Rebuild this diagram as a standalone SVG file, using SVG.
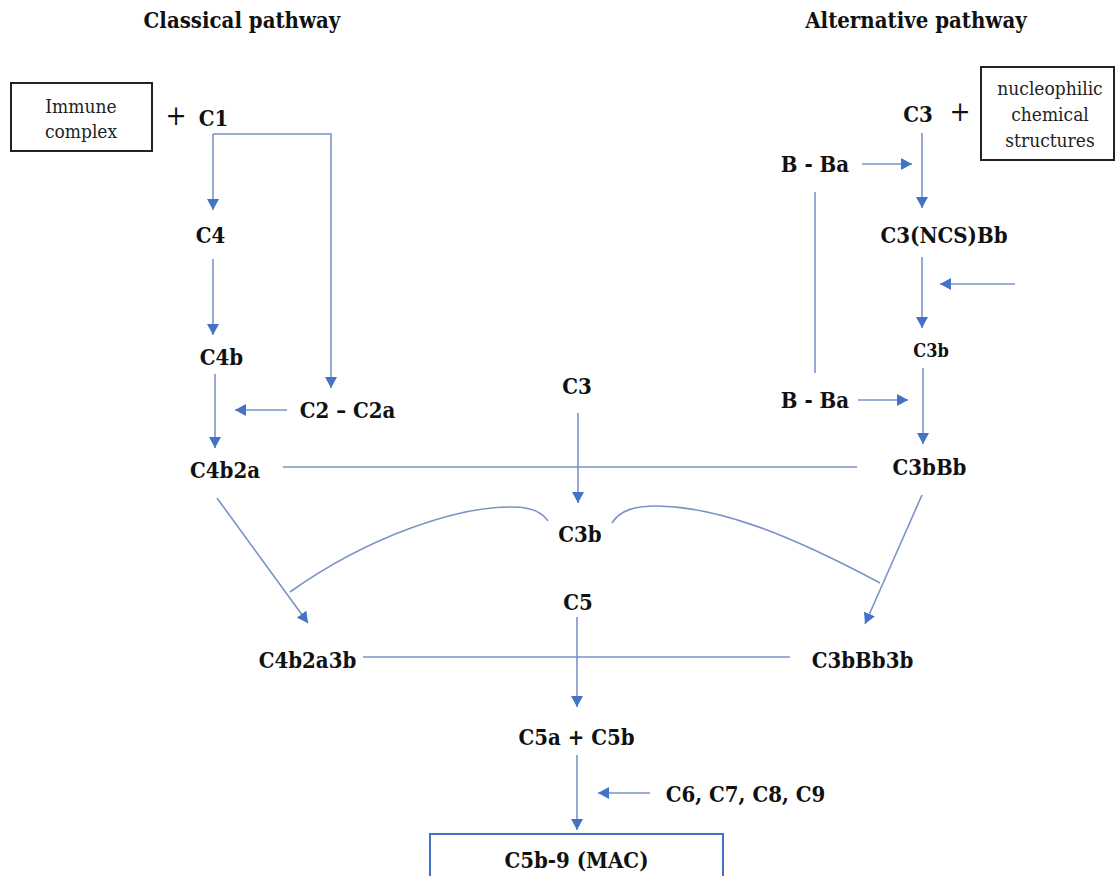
<svg xmlns="http://www.w3.org/2000/svg" width="1115" height="876" viewBox="0 0 1115 876">
<style>
text{font-family:'DejaVu Serif Condensed','DejaVu Serif',serif;font-stretch:condensed;text-anchor:middle;fill:#111}
.t{font-weight:bold;font-size:22px}
.title{font-weight:bold;font-size:22px}
.r{font-size:19px;fill:#222}
.plus{font-size:28px}
.box{fill:#fff;stroke:#222;stroke-width:2}
.mac{fill:#fff;stroke:#4472C4;stroke-width:2}
.c path{fill:none;stroke:#7b93c6;stroke-width:1.6}
</style>
<defs>
<marker id="ah" markerUnits="userSpaceOnUse" markerWidth="12" markerHeight="12" refX="11" refY="6" orient="auto">
<path d="M0,0 L11,6 L0,12 z" fill="#4472C4"/>
</marker>
</defs>
<rect width="1115" height="876" fill="#fff"/>

<g id="titles">
<text class="title" x="242" y="28">Classical pathway</text>
<text class="title" x="916" y="28">Alternative pathway</text>
</g>

<g id="connectors" class="c">
<path d="M213,134 V210" marker-end="url(#ah)"/>
<path d="M213,134 H331 V388" marker-end="url(#ah)"/>
<path d="M213,259 V335" marker-end="url(#ah)"/>
<path d="M215,374 V448" marker-end="url(#ah)"/>
<path d="M287,410 H235" marker-end="url(#ah)"/>
<path d="M283,467 H857"/>
<path d="M578,413 V503" marker-end="url(#ah)"/>
<path d="M217,498 L308,623" marker-end="url(#ah)"/>
<path d="M290,592 C370,535 460,506 513,507 C530,507 542,512 548,521"/>
<path d="M612,523 C620,510 635,506 657,506 C720,507 790,535 880,583"/>
<path d="M922,495 L865,624" marker-end="url(#ah)"/>
<path d="M363,657 H790"/>
<path d="M577,617 V707" marker-end="url(#ah)"/>
<path d="M577,755 V830" marker-end="url(#ah)"/>
<path d="M650,793 H598" marker-end="url(#ah)"/>
<path d="M922,133 V208" marker-end="url(#ah)"/>
<path d="M862,164 H912" marker-end="url(#ah)"/>
<path d="M815,192 V373"/>
<path d="M922,257 V328" marker-end="url(#ah)"/>
<path d="M1015,284 H940" marker-end="url(#ah)"/>
<path d="M923,368 V444" marker-end="url(#ah)"/>
<path d="M858,400 H908" marker-end="url(#ah)"/>
</g>

<g id="immune-complex">
<rect class="box" x="11" y="83" width="141" height="68"/>
<text class="r" x="81" y="113">Immune</text>
<text class="r" x="81" y="138">complex</text>
</g>
<g id="plus-left"><text class="plus" x="176" y="125">+</text></g>
<g id="C1"><text class="t" x="213.5" y="126">C1</text></g>
<g id="C4"><text class="t" x="210.5" y="243">C4</text></g>
<g id="C4b"><text class="t" x="221.5" y="365">C4b</text></g>
<g id="C2-C2a"><text class="t" x="347.5" y="418">C2 – C2a</text></g>
<g id="C4b2a"><text class="t" x="225" y="478">C4b2a</text></g>
<g id="C3-center"><text class="t" x="577" y="394">C3</text></g>
<g id="C3b-center"><text class="t" x="580" y="542">C3b</text></g>
<g id="C5"><text class="t" x="578" y="610">C5</text></g>
<g id="C4b2a3b"><text class="t" x="307.5" y="668">C4b2a3b</text></g>
<g id="C3bBb3b"><text class="t" x="862.5" y="668">C3bBb3b</text></g>
<g id="C5a-C5b"><text class="t" x="576.5" y="745">C5a + C5b</text></g>
<g id="C6-C9"><text class="t" x="745.5" y="802">C6, C7, C8, C9</text></g>
<g id="MAC">
<rect class="mac" x="430" y="834" width="293" height="60"/>
<text class="t" x="576.5" y="868">C5b-9 (MAC)</text>
</g>

<g id="C3-alt"><text class="t" x="918" y="122">C3</text></g>
<g id="plus-right"><text class="plus" x="960" y="121">+</text></g>
<g id="nucleophilic">
<rect class="box" x="981" y="67" width="133" height="93"/>
<text class="r" x="1050" y="95">nucleophilic</text>
<text class="r" x="1050" y="121">chemical</text>
<text class="r" x="1050" y="147">structures</text>
</g>
<g id="B-Ba-top"><text class="t" x="815" y="172">B - Ba</text></g>
<g id="C3NCSBb"><text class="t" x="944" y="243">C3(NCS)Bb</text></g>
<g id="C3b-alt"><text class="t" x="931" y="357" style="font-size:18px">C3b</text></g>
<g id="B-Ba-bottom"><text class="t" x="815" y="408">B - Ba</text></g>
<g id="C3bBb"><text class="t" x="929.5" y="475">C3bBb</text></g>
</svg>
